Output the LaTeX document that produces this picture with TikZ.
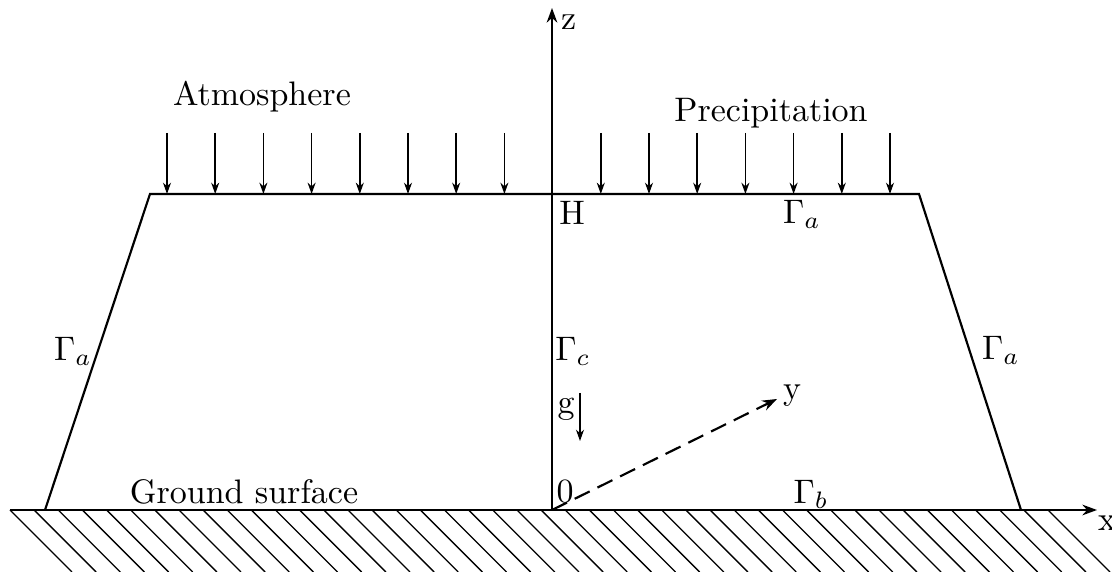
\documentclass[tikz,border=0pt]{standalone}
\usepackage{tikz}
\usetikzlibrary{arrows.meta,positioning}
\tikzset{
  bnd/.style      = {line width=0.65pt},
  axisarr/.style  = {line width=0.65pt, -{Stealth[length=4.4pt, width=3.2pt]}},
  rain/.style     = {line width=0.5pt, -{Stealth[length=3.4pt, width=2.4pt]}},
  hatchln/.style  = {line width=0.4pt},
  lab/.style      = {inner sep=1pt, scale=1.02},
}
\begin{document}
\begin{tikzpicture}[x=0.3pt, y=-0.3pt]
  \useasboundingbox (0,0) rectangle (1112,572);
  % corners of the domain and axis ends
  \coordinate (O)    at (552,510);
  \coordinate (bl)   at (45,510);
  \coordinate (br)   at (1021,510);
  \coordinate (tl)   at (150,194);
  \coordinate (tr)   at (919,194);
  \coordinate (gnd0) at (10,510);
  \coordinate (xend) at (1097,510);
  \coordinate (zend) at (552,8);
  \coordinate (yend) at (777,399);
  \coordinate (gtop) at (580,393);
  \coordinate (gbot) at (580,441);
  % domain boundary
  \draw[bnd] (bl) -- (tl) -- (tr) -- (br);
  % ground hatching
  \foreach \i in {0,...,43}
    \draw[hatchln] (10+24.14*\i,510) -- ++(62,62);
  % axes
  \draw[axisarr] (gnd0) -- (xend);
  \draw[axisarr] (O) -- (zend);
  \draw[axisarr, dash pattern=on 5pt off 2.6pt] (O) -- (yend);
  \draw[rain] (gtop) -- (gbot);
  % precipitation
  \foreach \i in {0,...,7,9,10,...,15}
    \draw[rain] (167+48.2*\i,133) -- ++(0,61);
  % labels
  \node[lab, anchor=west] (zlab) at (557,22)  {z};
  \node[lab, anchor=west] (xlab) at (1094,523) {x};
  \node[lab, anchor=west] (ylab) at (779,396) {y};
  \node[lab] (atm)  at (262,97)  {Atmosphere};
  \node[lab] (prec) at (771,113) {Precipitation};
  \node[lab] (Hlab) at (572,213) {H};
  \node[lab] (Gat)  at (802,214) {$\Gamma_a$};
  \node[lab] (Gal)  at (73,351)  {$\Gamma_a$};
  \node[lab] (Gc)   at (573,351) {$\Gamma_c$};
  \node[lab] (Gar)  at (1001,350) {$\Gamma_a$};
  \node[lab] (glab) at (566,409) {g};
  \node[lab] (zero) at (565,492) {0};
  \node[lab] (Gb)   at (811,494) {$\Gamma_b$};
  \node[lab] (gnd)  at (244,492) {Ground surface};
\end{tikzpicture}
\end{document}
